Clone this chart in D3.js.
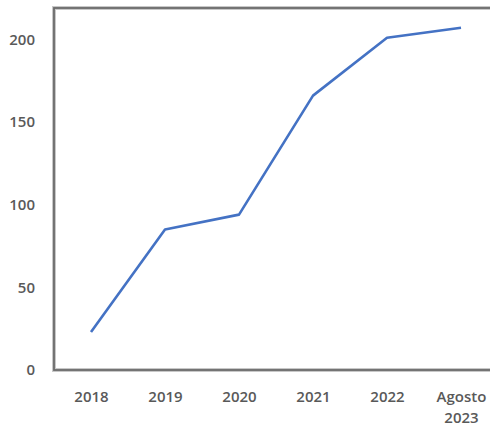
<!DOCTYPE html>
<html>
<head>
<meta charset="utf-8">
<script src="https://cdn.jsdelivr.net/npm/d3@7"></script>
<style>
  body { margin: 0; background: #fff; }
  svg { display: block; }
</style>
</head>
<body>
<div id="chart"></div>
<script>
  var categories = ['2018', '2019', '2020', '2021', '2022', 'Agosto 2023'];
  var values = [23, 85, 94, 166, 201, 207];
  var yTicks = [0, 50, 100, 150, 200];

  var width = 490, height = 428;
  var margin = {top: 8, right: -8, bottom: 58, left: 54};
  var innerW = width - margin.left - margin.right;
  var innerH = height - margin.top - margin.bottom;

  var svg = d3.select('#chart').append('svg')
    .attr('width', width).attr('height', height);
  var g = svg.append('g')
    .attr('transform', 'translate(' + margin.left + ',' + margin.top + ')');

  var x = d3.scalePoint().domain(categories).range([0, innerW]).padding(0.5);
  var y = d3.scaleLinear().domain([0, 219]).range([innerH, 0]);

  // frame
  g.append('rect')
    .attr('x', 0).attr('y', 0)
    .attr('width', innerW).attr('height', innerH)
    .attr('fill', 'none').attr('stroke', '#c8c8c8').attr('stroke-width', 4);
  g.append('rect')
    .attr('x', 0).attr('y', 0)
    .attr('width', innerW).attr('height', innerH)
    .attr('fill', 'none').attr('stroke', '#6b6b6b').attr('stroke-width', 1.8);

  var yAxis = d3.axisLeft(y).tickValues(yTicks).tickSize(0).tickPadding(19);
  g.append('g').call(yAxis)
    .call(function(a) { a.select('.domain').remove(); });

  var xAxis = d3.axisBottom(x).tickSize(0).tickPadding(21);
  var xg = g.append('g').attr('transform', 'translate(0,' + innerH + ')').call(xAxis);
  xg.select('.domain').remove();
  xg.selectAll('.tick text').each(function(d) {
    var words = d.split(' ');
    var t = d3.select(this).text(null);
    words.forEach(function(w, i) {
      t.append('tspan').attr('x', 0).attr('dy', i === 0 ? '0.71em' : '1.4em').text(w);
    });
  });

  svg.selectAll('.tick text')
    .attr('font-family', 'Open Sans, sans-serif')
    .attr('font-size', 15)
    .attr('font-weight', 600)
    .attr('fill', '#595959');

  var line = d3.line()
    .x(function(d, i) { return x(categories[i]); })
    .y(function(d) { return y(d); });

  g.append('path').datum(values)
    .attr('d', line)
    .attr('fill', 'none')
    .attr('stroke', '#4472c4')
    .attr('stroke-width', 2.6)
    .attr('stroke-linejoin', 'round');
</script>
</body>
</html>
